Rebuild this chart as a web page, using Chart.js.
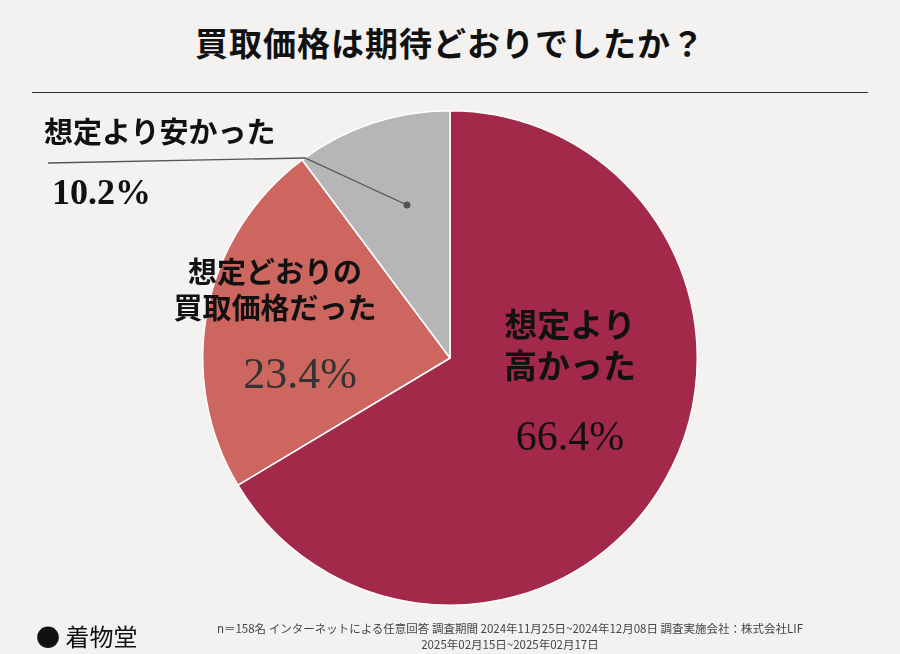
<!DOCTYPE html>
<html><head><meta charset="utf-8">
<script src="https://cdn.jsdelivr.net/npm/chart.js@4/dist/chart.umd.min.js"></script>
<style>
body{margin:0;width:900px;height:654px;background:#f3f2f0;font-family:"Noto Sans CJK JP",sans-serif;position:relative;overflow:hidden}
#title{position:absolute;top:18px;left:0;width:900px;text-align:center;font-size:33px;font-weight:bold;color:#111;letter-spacing:1px}
#rule{position:absolute;top:92px;left:32px;width:836px;border-top:1px solid #333}
#wrap{position:absolute;left:194px;top:104px;width:512px;height:508px}
.lb{position:absolute;font-weight:bold;color:#111;line-height:1.25;text-align:center}
#foot{position:absolute;top:620px;left:160px;width:700px;text-align:center;font-size:11.5px;color:#444;line-height:16px}
#logo{position:absolute;top:618px;left:36px;font-size:24px;color:#111}
#ld{position:absolute;left:0;top:0}
</style></head><body>
<div id="title">買取価格は期待どおりでしたか？</div>
<div id="rule"></div>
<div id="wrap"><canvas id="c"></canvas></div>
<svg id="ld" width="900" height="654"><polyline points="48,163 305,158 407,205" fill="none" stroke="#555" stroke-width="1.3"/><circle cx="407" cy="205" r="3.5" fill="#555"/></svg>
<div class="lb" style="left:44px;top:112px;font-size:29px;text-align:left">想定より安かった</div>
<div class="lb" style="left:52px;top:170px;font-size:36px;font-family:'Liberation Serif'">10.2%</div>
<div class="lb" style="left:140px;top:252px;font-size:29px;width:270px">想定どおりの<br>買取価格だった</div>
<div class="lb" style="left:225px;top:346px;font-size:44px;width:150px;color:#333;font-weight:normal;font-family:'Liberation Serif'">23.4%</div>
<div class="lb" style="left:480px;top:303px;font-size:33px;width:180px">想定より<br>高かった</div>
<div class="lb" style="left:480px;top:410px;font-size:42px;width:180px;font-weight:normal;font-family:'Liberation Serif'">66.4%</div>
<div id="logo">● 着物堂</div>
<div id="foot">n＝158名 インターネットによる任意回答 調査期間 2024年11月25日~2024年12月08日 調査実施会社：株式会社LIF<br>2025年02月15日~2025年02月17日</div>
<script>
const categories = ["想定より高かった", "想定どおりの買取価格だった", "想定より安かった"];
const values = [66.4, 23.4, 10.2];
const colors = ["#a2294a", "#cc665f", "#b6b6b6"];

new Chart(document.getElementById("c"), {
  type: "pie",
  data: {
    labels: categories,
    datasets: [{ data: values, backgroundColor: colors, borderColor: "#ffffff", borderWidth: 1.5 }]
  },
  options: {
    responsive: true,
    maintainAspectRatio: false,
    animation: false,
    layout: { padding: 6 },
    plugins: { legend: { display: false }, tooltip: { enabled: false } }
  }
});
</script>
</body></html>
